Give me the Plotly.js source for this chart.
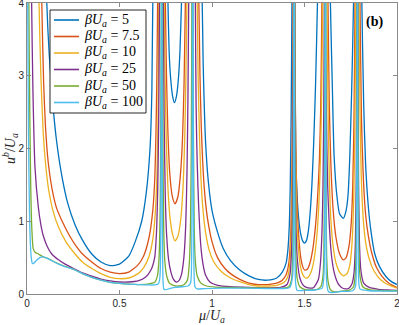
<!DOCTYPE html>
<html>
<head>
<meta charset="utf-8">
<script src="https://cdn.plot.ly/plotly-3.0.1.min.js"></script>
<style>
  html, body { margin: 0; padding: 0; background: #fff; }
  #chart { width: 399px; height: 325px; }
</style>
</head>
<body>
<div id="chart"></div>
<script>
// beta*U_a values, one curve each
const betaVals = [5, 7.5, 10, 25, 50, 100];
const colors = ['#0072BD', '#D95319', '#EDB120', '#7E2F8E', '#77AC30', '#4DBEEE'];

// [mu/U_a, u^b/U_a]; 9 marks a pole above the frame
const curve5 = [
    [0.09, 6], [0.107, 4], [0.12, 3.3], [0.14, 2.6], [0.16, 2.1], [0.19, 1.6], [0.22, 1.25],
    [0.26, 0.95], [0.30, 0.74], [0.35, 0.55], [0.40, 0.44], [0.45, 0.39], [0.50, 0.41],
    [0.55, 0.52], [0.585, 0.72], [0.62, 1.0], [0.645, 1.4], [0.665, 2.0], [0.675, 2.8],
    [0.68, 4], [0.727, 9], [0.762, 4], [0.768, 3.35], [0.776, 2.98], [0.787, 2.72],
    [0.797, 2.63], [0.808, 2.72], [0.819, 2.98], [0.827, 3.35], [0.835, 4], [0.893, 9],
    [0.947, 4], [0.952, 3.2], [0.958, 2.6], [0.965, 2.1], [0.98, 1.55], [1.0, 1.15],
    [1.03, 0.85], [1.06, 0.63], [1.1, 0.46], [1.15, 0.33], [1.2, 0.25], [1.25, 0.2],
    [1.3, 0.19], [1.35, 0.22], [1.38, 0.3], [1.4, 0.42], [1.41, 0.6], [1.418, 0.95],
    [1.423, 1.5], [1.428, 2.5], [1.432, 4], [1.44, 9], [1.448, 4], [1.452, 2.0],
    [1.46, 1.35], [1.47, 1.0], [1.48, 0.82], [1.49, 0.73], [1.5, 0.7], [1.51, 0.73],
    [1.52, 0.85], [1.53, 1.1], [1.54, 1.5], [1.55, 2.1], [1.56, 2.9], [1.57, 4],
    [1.61, 9], [1.64, 4], [1.65, 2.9], [1.66, 1.9], [1.675, 1.35], [1.69, 1.1],
    [1.71, 1.04], [1.725, 1.15], [1.735, 1.35], [1.745, 1.9], [1.755, 2.8], [1.765, 4],
    [1.785, 9], [1.81, 4], [1.82, 2.6], [1.83, 1.8], [1.845, 1.2], [1.86, 0.85],
    [1.88, 0.55], [1.905, 0.38], [1.94, 0.24], [1.97, 0.17], [2.0, 0.13]
];
const curve7p5 = [
    [0.07, 6], [0.08, 4], [0.09, 2.9], [0.1, 2.3], [0.115, 1.8], [0.135, 1.45], [0.16, 1.18],
    [0.19, 1.0], [0.23, 0.8], [0.26, 0.68], [0.3, 0.55], [0.35, 0.44], [0.4, 0.35],
    [0.45, 0.3], [0.5, 0.28], [0.55, 0.3], [0.6, 0.4], [0.63, 0.52], [0.66, 0.78],
    [0.68, 1.15], [0.69, 1.55], [0.697, 2.2], [0.702, 3.0], [0.706, 4], [0.727, 9],
    [0.748, 4], [0.754, 3.0], [0.762, 2.2], [0.772, 1.65], [0.785, 1.35], [0.8, 1.24],
    [0.815, 1.33], [0.828, 1.6], [0.84, 2.1], [0.849, 2.9], [0.856, 4], [0.893, 9],
    [0.929, 4], [0.935, 3.0], [0.942, 2.3], [0.95, 1.8], [0.96, 1.4], [0.975, 1.05],
    [1.0, 0.72], [1.03, 0.5], [1.07, 0.35], [1.1, 0.28], [1.15, 0.2], [1.2, 0.15],
    [1.25, 0.13], [1.3, 0.13], [1.35, 0.15], [1.38, 0.19], [1.4, 0.26], [1.415, 0.42],
    [1.425, 0.8], [1.431, 1.5], [1.435, 2.5], [1.438, 4], [1.443, 9], [1.447, 4],
    [1.451, 2.5], [1.456, 1.6], [1.462, 1.1], [1.47, 0.75], [1.48, 0.5], [1.49, 0.38],
    [1.5, 0.33], [1.515, 0.34], [1.53, 0.43], [1.545, 0.62], [1.56, 0.95], [1.57, 1.3],
    [1.58, 1.8], [1.588, 2.6], [1.594, 4], [1.61, 9], [1.627, 4], [1.634, 2.6],
    [1.643, 1.75], [1.655, 1.15], [1.67, 0.78], [1.69, 0.55], [1.71, 0.47], [1.725, 0.5],
    [1.74, 0.65], [1.752, 0.95], [1.761, 1.5], [1.768, 2.5], [1.773, 4], [1.785, 9],
    [1.8, 4], [1.808, 2.4], [1.818, 1.6], [1.83, 1.1], [1.845, 0.8], [1.865, 0.55],
    [1.89, 0.36], [1.92, 0.24], [1.96, 0.14], [2.0, 0.09]
];
const curve10 = [
    [0.055, 6], [0.065, 4], [0.075, 3.0], [0.088, 2.2], [0.1, 1.8], [0.116, 1.45], [0.14, 1.15],
    [0.17, 0.92], [0.21, 0.72], [0.26, 0.55], [0.3, 0.44], [0.35, 0.35], [0.4, 0.28],
    [0.45, 0.23], [0.5, 0.21], [0.55, 0.22], [0.6, 0.28], [0.63, 0.36], [0.66, 0.52],
    [0.68, 0.75], [0.693, 1.1], [0.702, 1.6], [0.708, 2.4], [0.712, 4], [0.727, 9],
    [0.742, 4], [0.747, 2.9], [0.753, 2.1], [0.762, 1.45], [0.773, 1.05], [0.787, 0.82],
    [0.8, 0.73], [0.815, 0.79], [0.83, 1.0], [0.843, 1.45], [0.853, 2.2], [0.859, 3.0],
    [0.864, 4], [0.893, 9], [0.92, 4], [0.925, 3.0], [0.932, 2.2], [0.94, 1.6],
    [0.95, 1.2], [0.965, 0.85], [0.985, 0.6], [1.01, 0.44], [1.05, 0.31], [1.1, 0.22],
    [1.15, 0.17], [1.2, 0.13], [1.25, 0.11], [1.3, 0.11], [1.35, 0.12], [1.39, 0.16],
    [1.41, 0.24], [1.423, 0.5], [1.431, 1.1], [1.436, 2.2], [1.439, 4], [1.443, 9],
    [1.447, 4], [1.45, 2.4], [1.454, 1.5], [1.46, 0.95], [1.468, 0.6], [1.478, 0.38],
    [1.49, 0.27], [1.505, 0.22], [1.52, 0.23], [1.535, 0.3], [1.55, 0.45], [1.565, 0.75],
    [1.577, 1.2], [1.586, 1.85], [1.593, 2.8], [1.598, 4], [1.61, 9], [1.622, 4],
    [1.627, 2.6], [1.634, 1.6], [1.643, 1.0], [1.655, 0.65], [1.67, 0.43], [1.69, 0.3],
    [1.71, 0.25], [1.73, 0.28], [1.745, 0.4], [1.757, 0.7], [1.766, 1.3], [1.772, 2.2],
    [1.777, 4], [1.785, 9], [1.795, 4], [1.8, 2.5], [1.807, 1.6], [1.817, 1.05],
    [1.83, 0.72], [1.85, 0.48], [1.875, 0.32], [1.91, 0.2], [1.95, 0.13], [2.0, 0.08]
];
const curve25 = [
    [0.018, 6], [0.025, 4], [0.032, 2.8], [0.043, 1.75], [0.061, 1.2], [0.075, 0.95],
    [0.088, 0.8], [0.11, 0.65], [0.134, 0.55], [0.17, 0.47], [0.206, 0.41], [0.26, 0.34],
    [0.3, 0.29], [0.35, 0.245], [0.4, 0.205], [0.45, 0.18], [0.5, 0.165], [0.55, 0.165],
    [0.6, 0.18], [0.64, 0.23], [0.67, 0.33], [0.69, 0.5], [0.7, 0.85], [0.707, 1.5],
    [0.712, 2.4], [0.716, 4], [0.727, 9], [0.737, 4], [0.741, 2.5], [0.747, 1.4],
    [0.755, 0.8], [0.765, 0.48], [0.778, 0.3], [0.792, 0.2], [0.806, 0.165], [0.82, 0.18],
    [0.835, 0.27], [0.848, 0.5], [0.858, 0.95], [0.865, 1.7], [0.87, 2.7], [0.874, 4],
    [0.893, 9], [0.91, 4], [0.914, 2.6], [0.92, 1.8], [0.928, 1.2], [0.94, 0.65],
    [0.952, 0.4], [0.965, 0.26], [0.99, 0.16], [1.03, 0.12], [1.1, 0.1], [1.2, 0.09],
    [1.3, 0.085], [1.37, 0.09], [1.405, 0.13], [1.422, 0.28], [1.432, 0.75], [1.437, 1.8],
    [1.44, 4], [1.443, 9], [1.446, 4], [1.449, 2.0], [1.454, 0.9], [1.462, 0.45],
    [1.475, 0.22], [1.49, 0.13], [1.51, 0.09], [1.53, 0.08], [1.55, 0.09], [1.575, 0.2],
    [1.587, 0.45], [1.595, 0.9], [1.6, 1.5], [1.604, 2.5], [1.607, 4], [1.61, 9],
    [1.613, 4], [1.618, 2.5], [1.625, 1.5], [1.633, 1.0], [1.645, 0.55], [1.66, 0.3],
    [1.68, 0.15], [1.7, 0.09], [1.72, 0.07], [1.74, 0.08], [1.757, 0.14], [1.768, 0.3],
    [1.775, 0.7], [1.78, 1.6], [1.783, 4], [1.786, 9], [1.789, 4], [1.792, 1.6],
    [1.797, 0.7], [1.805, 0.32], [1.82, 0.15], [1.85, 0.09], [1.9, 0.065], [1.95, 0.055],
    [2.0, 0.05]
];
const curve50 = [
    [0.006, 6], [0.01, 4], [0.015, 2.5], [0.02, 1.5], [0.026, 0.9], [0.034, 0.62],
    [0.045, 0.57], [0.061, 0.55], [0.08, 0.52], [0.1, 0.5], [0.12, 0.48], [0.15, 0.44],
    [0.2, 0.385], [0.26, 0.33], [0.3, 0.28], [0.35, 0.23], [0.4, 0.19], [0.45, 0.16],
    [0.5, 0.145], [0.55, 0.135], [0.6, 0.13], [0.65, 0.135], [0.69, 0.16], [0.705, 0.25],
    [0.714, 0.5], [0.72, 1.2], [0.723, 2.3], [0.726, 4], [0.729, 9], [0.732, 4],
    [0.735, 2.0], [0.739, 0.9], [0.745, 0.45], [0.755, 0.25], [0.77, 0.15], [0.79, 0.12],
    [0.82, 0.11], [0.85, 0.13], [0.868, 0.2], [0.878, 0.45], [0.884, 1.0], [0.888, 2.0],
    [0.891, 4], [0.894, 9], [0.897, 4], [0.9, 2.0], [0.904, 0.9], [0.91, 0.45],
    [0.92, 0.25], [0.94, 0.15], [0.97, 0.11], [1.02, 0.095], [1.1, 0.09], [1.2, 0.085],
    [1.3, 0.08], [1.38, 0.08], [1.415, 0.1], [1.43, 0.2], [1.437, 0.6], [1.44, 1.8],
    [1.442, 4], [1.444, 9], [1.446, 4], [1.448, 1.8], [1.452, 0.6], [1.46, 0.22],
    [1.475, 0.1], [1.5, 0.065], [1.54, 0.055], [1.57, 0.065], [1.59, 0.11], [1.6, 0.25],
    [1.605, 0.6], [1.608, 1.8], [1.61, 4], [1.612, 9], [1.614, 4], [1.616, 1.8],
    [1.62, 0.5], [1.627, 0.18], [1.64, 0.06], [1.66, 0.03], [1.7, 0.04], [1.74, 0.05],
    [1.765, 0.1], [1.775, 0.3], [1.78, 1.0], [1.782, 2.0], [1.784, 4], [1.786, 9],
    [1.788, 4], [1.79, 2.0], [1.793, 0.8], [1.8, 0.25], [1.815, 0.1], [1.85, 0.06],
    [1.9, 0.05], [2.0, 0.045]
];
const curve100 = [
    [0.002, 6], [0.004, 4], [0.008, 2.2], [0.013, 1.2], [0.018, 0.7], [0.024, 0.48],
    [0.029, 0.42], [0.036, 0.42], [0.05, 0.46], [0.07, 0.5], [0.088, 0.51], [0.11, 0.49],
    [0.14, 0.45], [0.17, 0.41], [0.2, 0.38], [0.26, 0.33], [0.3, 0.28], [0.35, 0.23],
    [0.4, 0.19], [0.45, 0.16], [0.5, 0.145], [0.55, 0.135], [0.6, 0.13], [0.65, 0.125],
    [0.69, 0.125], [0.71, 0.14], [0.718, 0.22], [0.722, 0.5], [0.724, 1.5], [0.726, 4],
    [0.728, 9], [0.73, 4], [0.732, 1.0], [0.735, 0.2], [0.74, 0.065], [0.75, 0.06],
    [0.77, 0.075], [0.8, 0.09], [0.84, 0.1], [0.87, 0.11], [0.884, 0.15], [0.89, 0.5],
    [0.892, 1.5], [0.894, 4], [0.896, 9], [0.898, 4], [0.9, 1.2], [0.903, 0.3],
    [0.908, 0.1], [0.92, 0.07], [0.96, 0.075], [1.05, 0.08], [1.2, 0.08], [1.35, 0.075],
    [1.42, 0.09], [1.436, 0.25], [1.44, 1.0], [1.442, 4], [1.444, 9], [1.446, 4],
    [1.448, 0.8], [1.452, 0.15], [1.46, 0.05], [1.5, 0.05], [1.56, 0.055], [1.595, 0.08],
    [1.605, 0.25], [1.609, 1.2], [1.611, 4], [1.613, 9], [1.615, 4], [1.617, 0.8],
    [1.62, 0.15], [1.63, 0.03], [1.65, 0.02], [1.7, 0.035], [1.76, 0.045], [1.775, 0.1],
    [1.781, 0.5], [1.784, 4], [1.786, 9], [1.788, 4], [1.791, 0.4], [1.8, 0.07],
    [1.85, 0.045], [2.0, 0.04]
];
const curves = [curve5, curve7p5, curve10, curve25, curve50, curve100];

const xTicks = [0, 0.5, 1, 1.5, 2];
const yTicks = [0, 1, 2, 3, 4];

const serif = '"Liberation Serif", "DejaVu Serif", serif';
const sans = '"Liberation Sans", Arial, sans-serif';
const axisGrey = '#8a8a8a';

// plot frame in pixels, used to place the hand-made legend
const M = { l: 27, r: 2, t: 3, b: 31 };
const plotW = 399 - M.l - M.r;
const plotH = 325 - M.t - M.b;
const px = (x) => (x - M.l) / plotW;
const py = (y) => (325 - M.b - y) / plotH;

const labels = betaVals.map((b) => '<i>βU</i><sub><i>a</i></sub> = ' + b);

const data = curves.map(function (pts, i) {
    return {
        x: pts.map((p) => p[0]),
        y: pts.map((p) => p[1]),
        type: 'scatter',
        mode: 'lines',
        name: labels[i],
        line: { color: colors[i], width: 1.3, shape: 'spline', smoothing: 0.6 },
        hoverinfo: 'skip',
    };
});

// legend box, drawn by hand so the rows can sit as tight as in the original
const legBox = { x0: 50, x1: 146, y0: 10, y1: 113 };
const rowY = [20, 36.5, 53, 69.5, 86, 102.5];
const shapes = [{
    type: 'rect', xref: 'paper', yref: 'paper',
    x0: px(legBox.x0), x1: px(legBox.x1), y0: py(legBox.y1), y1: py(legBox.y0),
    fillcolor: '#ffffff', line: { color: '#262626', width: 1 }, layer: 'above',
}];
const annotations = [];
rowY.forEach(function (y, i) {
    shapes.push({
        type: 'line', xref: 'paper', yref: 'paper',
        x0: px(54), x1: px(79), y0: py(y), y1: py(y),
        line: { color: colors[i], width: 1.6 }, layer: 'above',
    });
    annotations.push({
        text: labels[i], xref: 'paper', yref: 'paper',
        x: px(82), y: py(y), xanchor: 'left', yanchor: 'middle',
        showarrow: false, font: { family: serif, size: 14, color: '#000000' },
    });
});
annotations.push({
    text: '<b>(b)</b>', xref: 'paper', yref: 'paper',
    x: px(374), y: py(22), xanchor: 'center', yanchor: 'middle',
    showarrow: false, font: { family: serif, size: 14, color: '#000000' },
});

function axis(range, ticks, titleText, standoff) {
    return {
        range: range,
        tickvals: ticks,
        ticktext: ticks.map(String),
        ticks: 'inside',
        ticklen: 4,
        tickwidth: 1,
        tickcolor: axisGrey,
        ticklabeloverflow: 'allow',
        showline: true,
        linecolor: axisGrey,
        linewidth: 1,
        mirror: 'ticks',
        showgrid: false,
        zeroline: false,
        fixedrange: true,
        tickfont: { family: sans, size: 10, color: '#262626' },
        title: { text: titleText, font: { family: serif, size: 14, color: '#262626' }, standoff: standoff },
    };
}

const layout = {
    width: 399,
    height: 325,
    margin: M,
    paper_bgcolor: '#ffffff',
    plot_bgcolor: '#ffffff',
    showlegend: false,
    xaxis: axis([0, 2], xTicks, '<i>μ</i>/<i>U</i><sub><i>a</i></sub>', 2),
    yaxis: axis([0, 4], yTicks, '<i>u</i><sup><i>b</i></sup>/<i>U</i><sub><i>a</i></sub>', 2),
    shapes: shapes,
    annotations: annotations,
};

Plotly.newPlot('chart', data, layout, { displayModeBar: false, staticPlot: true });
</script>
</body>
</html>
